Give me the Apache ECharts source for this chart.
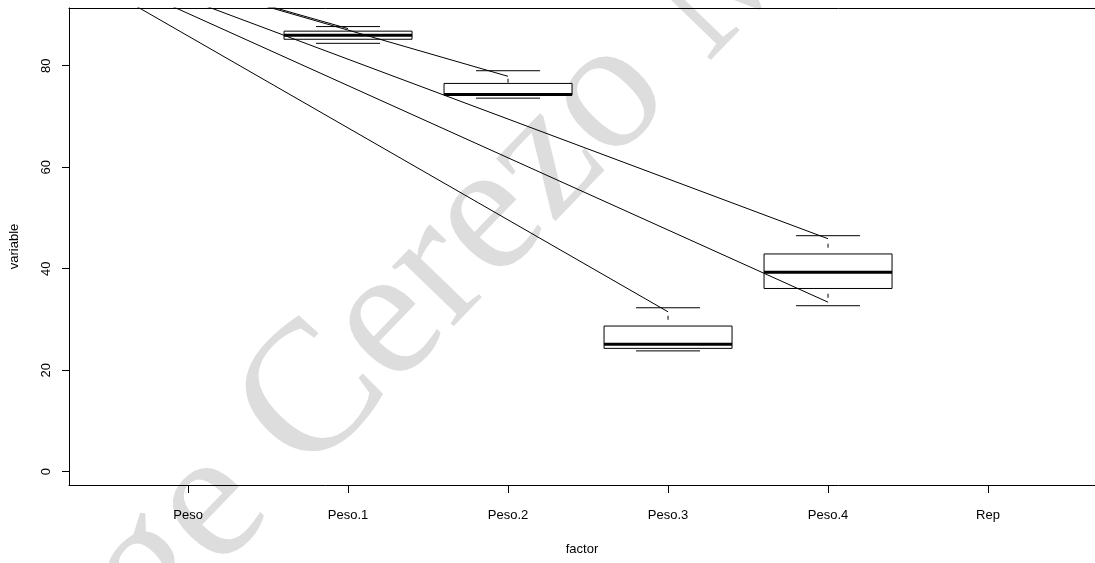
<!DOCTYPE html>
<html>
<head>
<meta charset="utf-8">
<script src="https://cdn.jsdelivr.net/npm/echarts@6/dist/echarts.min.js"></script>
<style>
html,body{margin:0;padding:0;background:#fff;}
#chart{width:1095px;height:563px;}
</style>
</head>
<body>
<div id="chart"></div>
<script>
// ---- data ----
const categories = ['Peso', 'Peso.1', 'Peso.2', 'Peso.3', 'Peso.4', 'Rep'];
const categoryPositions = [1, 2, 3, 4, 5, 6];
const yTicks = [0, 20, 40, 60, 80];

// boxplots (position on factor axis + five stats)
const boxPositions = [2, 3, 4, 5];
const lowerCaps    = [84.4, 73.6, 23.8, 32.7];
const lowerHinges  = [85.2, 74.2, 24.3, 36.1];
const medians      = [86.0, 74.3, 25.1, 39.3];
const upperHinges  = [86.8, 76.5, 28.7, 42.9];
const upperCaps    = [87.7, 79.0, 32.3, 46.5];

// diagonal lines: common origin (outside plot) to end points
const lineOrigin = [-0.14, 106.5];
const lineEndX = [2, 3, 4, 5, 5];
const lineEndY = [87.3, 77.9, 31.5, 45.9, 33.4];

const watermarkText = 'Jorge Cerezo M';

// ---- chart ----
const chart = echarts.init(document.getElementById('chart'), null, {renderer: 'canvas'});
const FONT = 'Liberation Sans';
const BOX_HALF = 0.4, CAP_HALF = 0.2;
const X_MIN = 0.256, X_MAX = 6.6685, Y_MIN = -2.62, Y_MAX = 91.36;

const boxData = boxPositions.map((p, i) => [p, lowerCaps[i], lowerHinges[i], medians[i], upperHinges[i], upperCaps[i]]);

function renderBox(params, api) {
  const x = api.value(0);
  const lo = api.value(1), q1 = api.value(2), med = api.value(3), q3 = api.value(4), hi = api.value(5);
  const tl = api.coord([x - BOX_HALF, q3]);
  const br = api.coord([x + BOX_HALF, q1]);
  const mL = api.coord([x - BOX_HALF, med]);
  const mR = api.coord([x + BOX_HALF, med]);
  const cHiL = api.coord([x - CAP_HALF, hi]);
  const cHiR = api.coord([x + CAP_HALF, hi]);
  const cLoL = api.coord([x - CAP_HALF, lo]);
  const cLoR = api.coord([x + CAP_HALF, lo]);
  const wTop = api.coord([x, q3]);
  const wHi = api.coord([x, hi]);
  const wBot = api.coord([x, q1]);
  const wLo = api.coord([x, lo]);
  const thin = {stroke: '#000', lineWidth: 1, fill: null};
  const dash = {stroke: '#000', lineWidth: 1, lineDash: [0, 8, 4, 300]};
  return {
    type: 'group',
    children: [
      {type: 'line', shape: {x1: wHi[0], y1: wHi[1], x2: wTop[0], y2: wTop[1]}, style: dash},
      {type: 'line', shape: {x1: wLo[0], y1: wLo[1], x2: wBot[0], y2: wBot[1]}, style: dash},
      {type: 'line', shape: {x1: cHiL[0], y1: cHiL[1], x2: cHiR[0], y2: cHiR[1]}, style: thin},
      {type: 'line', shape: {x1: cLoL[0], y1: cLoL[1], x2: cLoR[0], y2: cLoR[1]}, style: thin},
      {type: 'rect', shape: {x: tl[0], y: tl[1], width: br[0] - tl[0], height: br[1] - tl[1]},
        style: {stroke: '#000', lineWidth: 1, fill: '#fff'}},
      {type: 'line', shape: {x1: mL[0], y1: mL[1], x2: mR[0], y2: mR[1]}, style: {stroke: '#000', lineWidth: 3}}
    ]
  };
}

const lineSeries = lineEndX.map((ex, i) => ({
  type: 'line',
  data: [[lineOrigin[0], lineOrigin[1]], [ex, lineEndY[i]]],
  symbol: 'none',
  clip: true,
  silent: true,
  z: 5,
  lineStyle: {color: '#000', width: 1}
}));

const option = {
  animation: false,
  backgroundColor: '#fff',
  textStyle: {fontFamily: FONT},
  grid: {left: 69, top: 8, right: 0, bottom: 78},
  graphic: [{
    type: 'text',
    x: -40, y: 767,
    rotation: 0.803,
    z: -10,
    silent: true,
    style: {
      text: watermarkText,
      font: '187px "Liberation Serif"',
      fill: '#dddddd',
      verticalAlign: 'middle'
    }
  }],
  xAxis: [{
    type: 'value',
    min: X_MIN, max: X_MAX,
    position: 'bottom',
    name: 'factor',
    nameLocation: 'middle',
    nameGap: 58,
    nameTextStyle: {fontFamily: FONT, fontSize: 13, color: '#000'},
    axisLine: {show: true, onZero: false, lineStyle: {color: '#000', width: 1}},
    splitLine: {show: false},
    axisTick: {show: true, length: 8, customValues: categoryPositions, lineStyle: {color: '#000'}},
    axisLabel: {
      customValues: categoryPositions,
      formatter: v => categories[Math.round(v) - 1] || '',
      margin: 24, fontFamily: FONT, fontSize: 13, color: '#000'
    }
  }, {
    type: 'value',
    min: X_MIN, max: X_MAX,
    position: 'top',
    axisLine: {show: true, onZero: false, lineStyle: {color: '#000', width: 1}},
    axisTick: {show: false},
    axisLabel: {show: false},
    splitLine: {show: false}
  }],
  yAxis: {
    type: 'value',
    min: Y_MIN, max: Y_MAX,
    name: 'variable',
    nameLocation: 'middle',
    nameGap: 48,
    nameRotate: 90,
    nameTextStyle: {fontFamily: FONT, fontSize: 13, color: '#000'},
    axisLine: {show: true, onZero: false, lineStyle: {color: '#000', width: 1}},
    splitLine: {show: false},
    axisTick: {show: true, length: 7, customValues: yTicks, lineStyle: {color: '#000'}},
    axisLabel: {
      customValues: yTicks,
      rotate: 90,
      margin: 16, fontFamily: FONT, fontSize: 13, color: '#000'
    }
  },
  series: [
    {
      type: 'custom',
      renderItem: renderBox,
      data: boxData,
      encode: {x: 0, y: [1, 2, 3, 4, 5]},
      clip: true,
      silent: true,
      z: 3
    }
  ].concat(lineSeries)
};
chart.setOption(option);
</script>
</body>
</html>
